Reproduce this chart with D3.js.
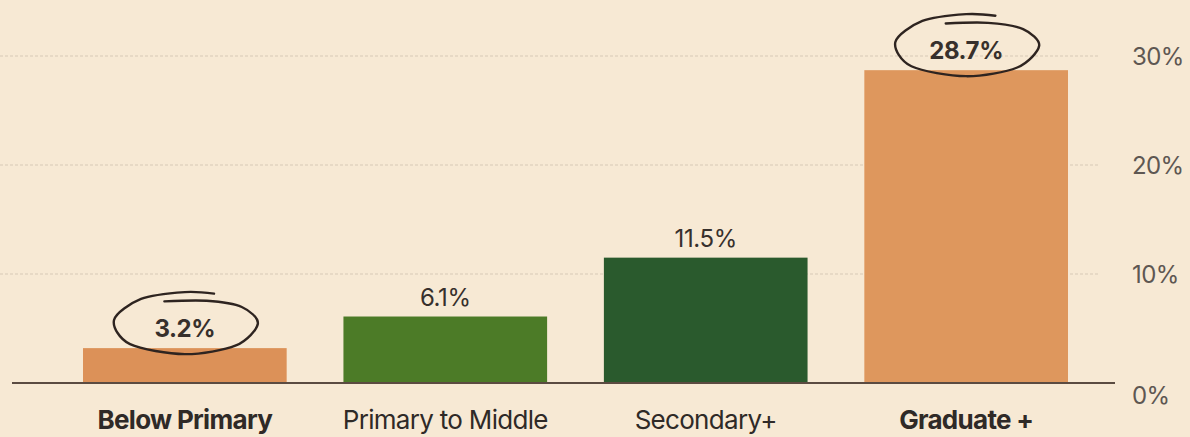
<!DOCTYPE html>
<html>
<head>
<meta charset="utf-8">
<script src="https://cdn.jsdelivr.net/npm/d3@7"></script>
<style>
  body { margin: 0; background: #f7e9d4; }
  svg { display: block; font-family: Inter, Roboto, sans-serif; }
</style>
</head>
<body>
<svg id="chart" width="1190" height="437"></svg>
<script>
// data
var categories = ["Below Primary", "Primary to Middle", "Secondary+", "Graduate +"];
var values = [3.2, 6.1, 11.5, 28.7];
var barColors = ["#dc9158", "#4c7b27", "#2a5a2d", "#de975d"];
var boldCats = [true, false, false, true];
var circled = [true, false, false, true];
var tickValues = [0, 10, 20, 30];

var svg = d3.select("#chart");

var x = d3.scaleBand()
  .domain(categories)
  .range([83, 1068])
  .paddingInner(0.218)
  .paddingOuter(0);

var y = d3.scaleLinear()
  .domain([0, 30])
  .range([383, 56]);

// background
svg.append("rect").attr("width", 1190).attr("height", 437).attr("fill", "#f7e9d4");

// gridlines
svg.append("g")
  .selectAll("line")
  .data(tickValues.filter(function(d) { return d > 0; }))
  .join("line")
  .attr("x1", 0).attr("x2", 1100)
  .attr("y1", function(d) { return y(d); })
  .attr("y2", function(d) { return y(d); })
  .attr("stroke", "#d8cab6")
  .attr("stroke-width", 1.2)
  .attr("stroke-dasharray", "3,2");

// right axis labels
svg.append("g")
  .selectAll("text")
  .data(tickValues)
  .join("text")
  .attr("x", 1132)
  .attr("y", function(d) { return y(d) + (d === 0 ? 21 : 9); })
  .attr("fill", "#5e5752")
  .attr("font-size", 24)
  .attr("letter-spacing", -0.6)
  .text(function(d) { return d + "%"; });

// bars
svg.append("g")
  .selectAll("rect")
  .data(values)
  .join("rect")
  .attr("x", function(d, i) { return x(categories[i]); })
  .attr("y", function(d) { return y(d); })
  .attr("width", x.bandwidth())
  .attr("height", function(d) { return y(0) - y(d); })
  .attr("fill", function(d, i) { return barColors[i]; });

// baseline
svg.append("line")
  .attr("x1", 12).attr("x2", 1115)
  .attr("y1", y(0)).attr("y2", y(0))
  .attr("stroke", "#5b4b41")
  .attr("stroke-width", 2);

// value labels
svg.append("g")
  .selectAll("text")
  .data(values)
  .join("text")
  .attr("x", function(d, i) { return x(categories[i]) + x.bandwidth() / 2; })
  .attr("y", function(d) { return y(d) - 11; })
  .attr("text-anchor", "middle")
  .attr("fill", "#37302c")
  .attr("font-size", 24)
  .attr("letter-spacing", -0.4)
  .attr("font-weight", function(d, i) { return circled[i] ? 700 : 400; })
  .text(function(d) { return d.toFixed(1) + "%"; });

// hand-drawn loops around highlighted labels (unit ellipse coords, open at the top)
var loop = [[0.4, -0.95], [0.0, -1.0], [-0.6, -0.78], [-0.97, -0.1], [-0.75, 0.68],
            [0.0, 1.0], [0.7, 0.72], [1.0, 0.02], [0.78, -0.52], [0.3, -0.72], [-0.28, -0.7]];

var ann = svg.append("g")
  .attr("fill", "none")
  .attr("stroke", "#2e2420")
  .attr("stroke-width", 2.4)
  .attr("stroke-linecap", "round");

values.forEach(function(d, i) {
  if (!circled[i]) return;
  var cx = x(categories[i]) + x.bandwidth() / 2;
  var cy = y(d) - 25;
  var rx = 73, ry = 31;
  var line = d3.line()
    .x(function(p) { return cx + p[0] * rx; })
    .y(function(p) { return cy + p[1] * ry; })
    .curve(d3.curveCardinal.tension(0.1));
  ann.append("path").attr("d", line(loop));
});

// category labels
svg.append("g")
  .selectAll("text")
  .data(categories)
  .join("text")
  .attr("x", function(d) { return x(d) + x.bandwidth() / 2; })
  .attr("y", 429)
  .attr("text-anchor", "middle")
  .attr("fill", "#2f2a27")
  .attr("font-size", 26)
  .attr("letter-spacing", -0.7)
  .attr("font-weight", function(d, i) { return boldCats[i] ? 700 : 400; })
  .text(function(d) { return d; });
</script>
</body>
</html>
